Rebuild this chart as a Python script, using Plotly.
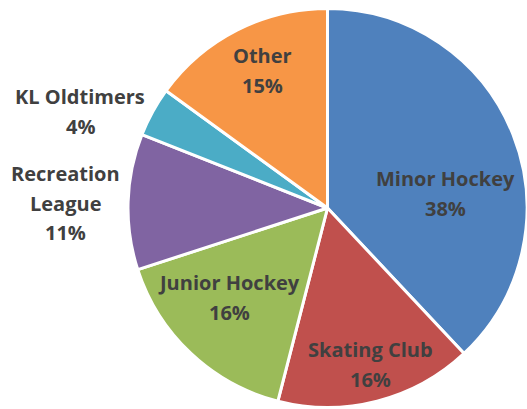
import plotly.graph_objects as go

# Ice-time share by user group
groups = ["Minor Hockey", "Skating Club", "Junior Hockey", "Recreation League", "KL Oldtimers", "Other"]
shares = [38, 16, 16, 11, 4, 15]
colors = ["#4F81BD", "#C0504D", "#9BBB59", "#8064A2", "#4BACC6", "#F79646"]

W, H = 527, 409
M_L, M_R, M_T, M_B = 128, 0, 7, 0

# label block placement in pixels: (center x, first baseline y, wrap name onto lines)
label_pos = {
    "Minor Hockey": (445, 186, False),
    "Skating Club": (370, 357, False),
    "Junior Hockey": (229, 290, False),
    "Recreation League": (65, 181, True),
    "KL Oldtimers": (80, 104, False),
    "Other": (262, 63, False),
}
LINE_H = 29.3
FONT = dict(family="Open Sans", size=20, color="#404040")

fig = go.Figure(
    go.Pie(
        labels=groups,
        values=shares,
        sort=False,
        direction="clockwise",
        rotation=0,
        textinfo="none",
        marker=dict(colors=colors, line=dict(color="white", width=3)),
        showlegend=False,
    )
)

pw = W - M_L - M_R
ph = H - M_T - M_B
total = sum(shares)
annotations = []
for name, val in zip(groups, shares):
    cx, base, wrap = label_pos[name]
    lines = name.split(" ") if wrap else [name]
    lines.append(f"{round(val / total * 100)}%")
    for i, line in enumerate(lines):
        by = base + i * LINE_H
        mid_y = by - 7.3
        annotations.append(
            dict(
                x=(cx - M_L) / pw,
                y=(H - M_B - mid_y) / ph,
                xref="paper",
                yref="paper",
                text=f"<b>{line}</b>",
                showarrow=False,
                xanchor="center",
                yanchor="middle",
                font=FONT,
            )
        )

fig.update_layout(
    width=W,
    height=H,
    margin=dict(l=M_L, r=M_R, t=M_T, b=M_B),
    paper_bgcolor="white",
    plot_bgcolor="white",
    annotations=annotations,
)

fig.write_html("out.html")
